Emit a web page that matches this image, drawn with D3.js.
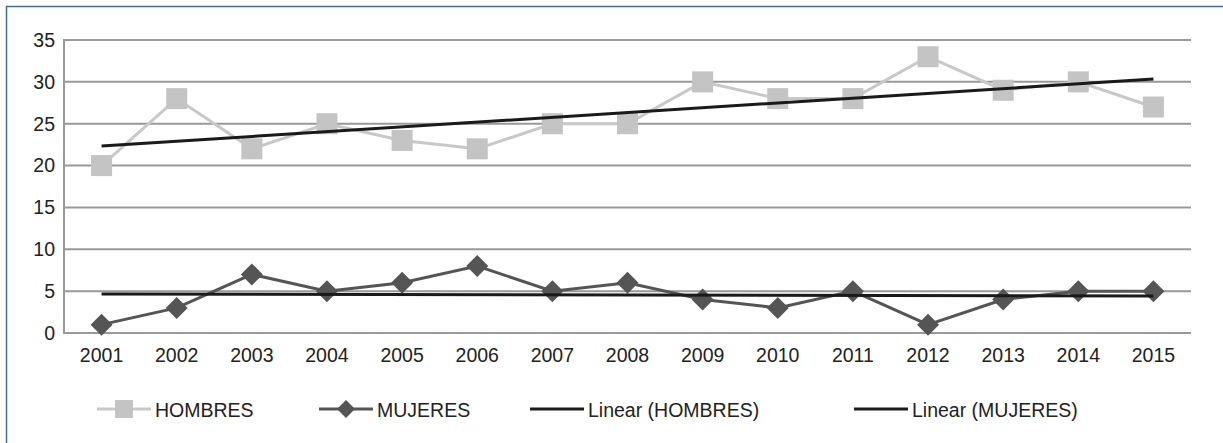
<!DOCTYPE html>
<html><head><meta charset="utf-8">
<script src="https://cdn.jsdelivr.net/npm/d3@7"></script>
<style>body{margin:0;background:#fff}svg{display:block}text{font-family:"Liberation Sans",Arial,sans-serif;fill:#222}</style>
</head><body><svg id="c" width="1223" height="443"></svg>
<script>
const years = ["2001","2002","2003","2004","2005","2006","2007","2008","2009","2010","2011","2012","2013","2014","2015"];
const hombres = [20,28,22,25,23,22,25,25,30,28,28,33,29,30,27];
const mujeres = [1,3,7,5,6,8,5,6,4,3,5,1,4,5,5];
const yTicks = [0,5,10,15,20,25,30,35];
const legendLabels = ["HOMBRES","MUJERES","Linear (HOMBRES)","Linear (MUJERES)"];

const svg = d3.select("#c");
const L = 64, R = 1191, T = 40, B = 333;
const FS = "19.5px";
const x = d3.scaleBand().domain(years).range([L, R]);
const y = d3.scaleLinear().domain([0, 35]).range([B, T]);
const cx = d => x(d) + x.bandwidth() / 2;

// frame
svg.append("line").attr("x1",6).attr("x2",1223).attr("y1",6.5).attr("y2",6.5).attr("stroke","#3c6ea8").attr("stroke-width",1.5);
svg.append("line").attr("x1",6.5).attr("x2",6.5).attr("y1",6).attr("y2",443).attr("stroke","#3c6ea8").attr("stroke-width",1.5);

// grid
svg.append("g").selectAll("line").data(yTicks).join("line")
  .attr("x1", L).attr("x2", R).attr("y1", d => y(d)).attr("y2", d => y(d))
  .attr("stroke", "#999").attr("stroke-width", 2);
svg.append("line").attr("x1", L).attr("x2", L).attr("y1", T-1).attr("y2", B+1).attr("stroke", "#999").attr("stroke-width", 2);

// y labels
svg.append("g").selectAll("text").data(yTicks).join("text")
  .attr("x", 55).attr("y", d => y(d)).attr("dy", "0.35em").attr("text-anchor", "end")
  .style("font-size", FS).text(d => d);
// x labels
svg.append("g").selectAll("text").data(years).join("text")
  .attr("x", d => cx(d)).attr("y", 362).attr("text-anchor", "middle")
  .style("font-size", FS).text(d => d);

function trend(vals) {
  const n = vals.length, xs = d3.range(n);
  const mx = d3.mean(xs), my = d3.mean(vals);
  const b = d3.sum(xs, i => (i - mx) * (vals[i] - my)) / d3.sum(xs, i => (i - mx) ** 2);
  const a = my - b * mx;
  return [a, a + b * (n - 1)];
}
const line = d3.line().x((d, i) => cx(years[i])).y(d => y(d));

// HOMBRES
svg.append("path").datum(hombres).attr("d", line).attr("fill", "none").attr("stroke", "#c8c8c8").attr("stroke-width", 3);
svg.append("g").selectAll("rect").data(hombres).join("rect")
  .attr("x", (d, i) => cx(years[i]) - 10.5).attr("y", d => y(d) - 10.5)
  .attr("width", 21).attr("height", 21).attr("fill", "#c4c4c4");

// MUJERES
svg.append("path").datum(mujeres).attr("d", line).attr("fill", "none").attr("stroke", "#555", ).attr("stroke-width", 3);
const diamond = "M0,-11L11,0L0,11L-11,0Z";
svg.append("g").selectAll("path").data(mujeres).join("path")
  .attr("d", diamond).attr("transform", (d, i) => `translate(${cx(years[i])},${y(d)})`).attr("fill", "#555");

// trends
const th = trend(hombres), tm = trend(mujeres);
[th, tm].forEach(t => {
  svg.append("line").attr("x1", cx(years[0])).attr("x2", cx(years[years.length-1]))
    .attr("y1", y(t[0])).attr("y2", y(t[1])).attr("stroke", "#1a1a1a").attr("stroke-width", 3);
});

// legend
const ly = 409;
const lg = svg.append("g");
const items = [
  {x: 97, type: "square", color: "#c8c8c8", mcolor: "#c4c4c4"},
  {x: 319, type: "diamond", color: "#555", mcolor: "#555"},
  {x: 530, type: "line", color: "#1a1a1a"},
  {x: 854, type: "line", color: "#1a1a1a"}
];
items.forEach((it, i) => {
  lg.append("line").attr("x1", it.x).attr("x2", it.x + 54).attr("y1", ly).attr("y2", ly)
    .attr("stroke", it.color).attr("stroke-width", 3);
  if (it.type === "square") lg.append("rect").attr("x", it.x + 27 - 9).attr("y", ly - 9).attr("width", 18).attr("height", 18).attr("fill", it.mcolor);
  if (it.type === "diamond") lg.append("path").attr("d", "M0,-9L9,0L0,9L-9,0Z").attr("transform", `translate(${it.x + 27},${ly})`).attr("fill", it.mcolor);
  lg.append("text").attr("x", it.x + 58).attr("y", ly + 1).attr("dy", "0.35em").style("font-size", FS).text(legendLabels[i]);
});
</script></body></html>
